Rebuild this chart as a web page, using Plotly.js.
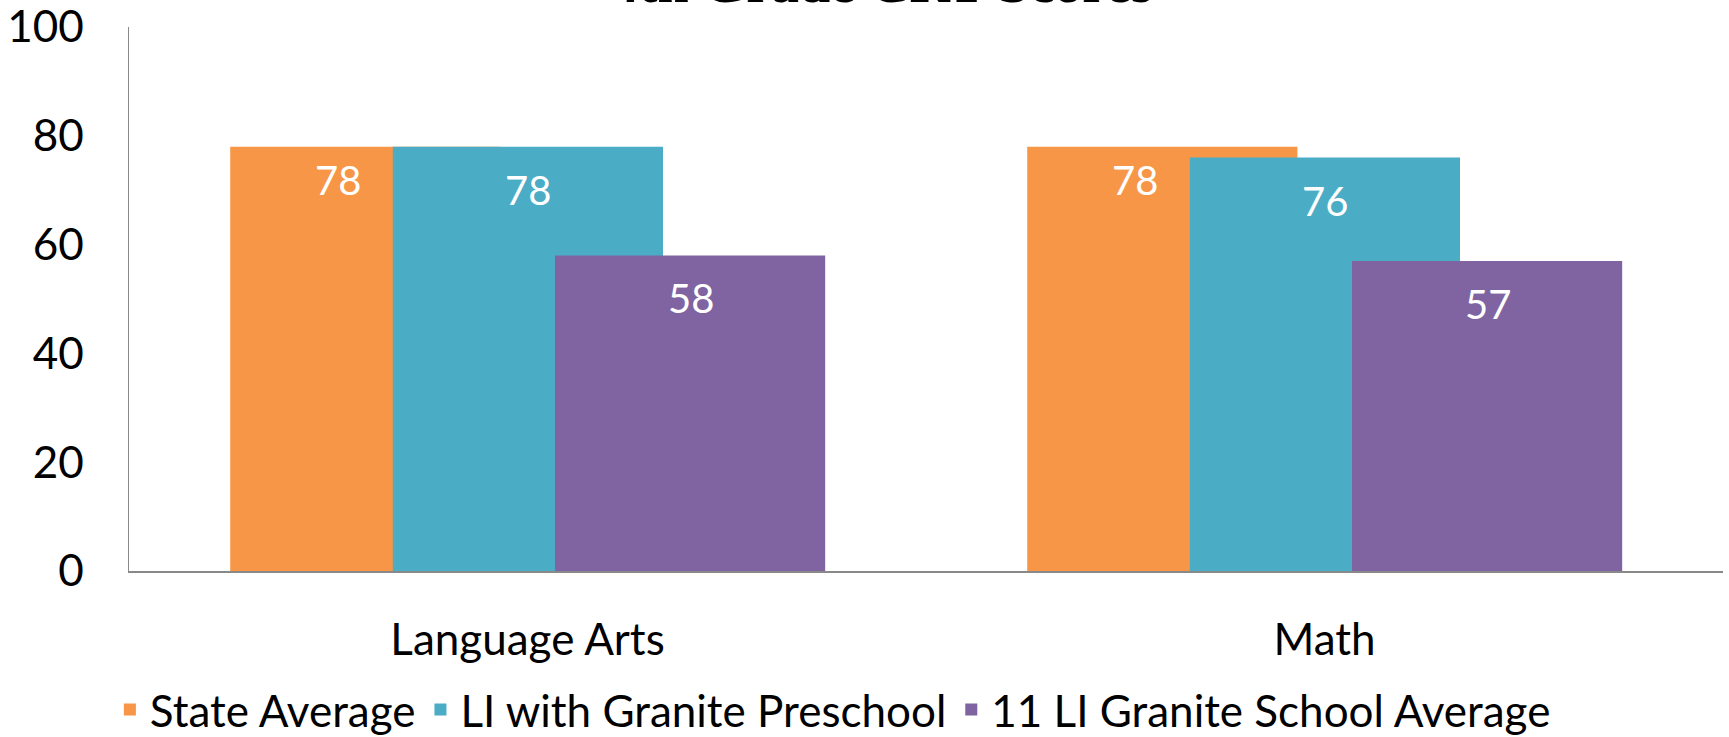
<!DOCTYPE html>
<html>
<head>
<meta charset="utf-8">
<script src="https://cdn.plot.ly/plotly-3.0.1.min.js"></script>
<style>html,body{margin:0;padding:0;background:#fff;}#chart{width:1729px;height:737px;}</style>
</head>
<body>
<div id="chart"></div>
<script>
// ---- data ----
const categories = ["Language Arts", "Math"];
const seriesNames = ["State Average", "LI with Granite Preschool", "11 LI Granite School Average"];
const stateAverage = [78, 78];
const liWithPreschool = [78, 76];
const liSchoolAverage = [58, 57];
const yTicks = [0, 20, 40, 60, 80, 100];
const chartTitle = "4th Grade CRT Scores";

// ---- style ----
const colors = ["#F79646", "#4BACC6", "#8064A2"];
const barWidth = 0.339;
const barOffsets = [-0.373, -0.169, 0.0345];
const labelShift = [-0.238, 0.0, 0.205];
const labelDrop = [-33, -43, -43];
const FONT = "Lato, 'Open Sans', sans-serif";

const seriesValues = [stateAverage, liWithPreschool, liSchoolAverage];

const traces = seriesValues.map((vals, k) => ({
  type: "bar",
  name: seriesNames[k],
  x: categories,
  y: vals,
  width: barWidth,
  offset: barOffsets[k],
  marker: {color: colors[k], line: {width: 0}},
  hoverinfo: "x+y+name"
}));

const annotations = [];
seriesValues.forEach((vals, k) => {
  vals.forEach((v, i) => {
    annotations.push({
      x: i + labelShift[k], xref: "x",
      y: v, yref: "y",
      yshift: labelDrop[k],
      text: String(v),
      showarrow: false,
      xanchor: "center", yanchor: "middle",
      font: {family: FONT, size: 40, color: "#ffffff"}
    });
  });
});

const layout = {
  width: 1729, height: 737,
  margin: {l: 129, r: 6, t: 27, b: 166, autoexpand: false},
  paper_bgcolor: "#ffffff", plot_bgcolor: "#ffffff",
  barmode: "overlay",
  showlegend: true,
  title: {
    text: chartTitle,
    font: {family: "'Liberation Serif', 'Times New Roman', serif", size: 56, color: "#000", weight: "bold"},
    x: 0.51, xref: "container", xanchor: "center",
    y: 0.997, yref: "container", yanchor: "bottom"
  },
  xaxis: {
    type: "category",
    range: [-0.5, 1.5],
    showline: true, linecolor: "#898989", linewidth: 2,
    showgrid: false, zeroline: false, ticks: "",
    ticklabelstandoff: 29,
    tickfont: {family: FONT, size: 44, color: "#000"}
  },
  yaxis: {
    range: [0, 100],
    tickvals: yTicks,
    ticktext: yTicks.map(String),
    showline: true, linecolor: "#898989", linewidth: 1.5,
    showgrid: false, zeroline: false, ticks: "",
    ticklabelstandoff: 35,
    ticklabeloverflow: "allow",
    tickfont: {family: FONT, size: 44, color: "#000"}
  },
  legend: {
    orientation: "h",
    x: -0.012, xanchor: "left",
    y: -0.2555, yanchor: "middle",
    font: {family: FONT, size: 44, color: "#000"},
    traceorder: "normal",
    itemclick: false, itemdoubleclick: false
  },
  annotations: annotations
};

Plotly.newPlot("chart", traces, layout, {displayModeBar: false, staticPlot: true});
</script>
</body>
</html>
